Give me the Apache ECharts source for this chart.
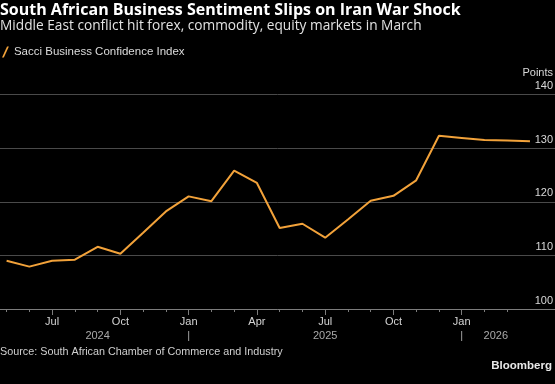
<!DOCTYPE html>
<html><head><meta charset="utf-8">
<script src="https://cdn.jsdelivr.net/npm/echarts@6/dist/echarts.min.js"></script>
<style>html,body{margin:0;padding:0;background:#000}#c{width:555px;height:384px}</style>
</head><body><div id="c"></div>
<script>
// Monthly positions (month-end readings plotted at the start of the next month)
const months = ['May','Jun','Jul','Aug','Sep','Oct','Nov','Dec','Jan','Feb','Mar','Apr',
                'May','Jun','Jul','Aug','Sep','Oct','Nov','Dec','Jan','Feb','Mar','Apr'];
const startYear = 2024;
const values = [109.0,107.9,109.0,109.2,111.6,110.3,114.2,118.2,121.0,120.1,125.8,123.5,
                115.1,115.9,113.3,116.7,120.2,121.1,124.0,132.3,131.9,131.5,131.4,131.3];
const quarterMonths = ['Jan','Apr','Jul','Oct'];
const yTicks = [100,110,120,130,140];
const seriesName = 'Sacci Business Confidence Index';

const FONT = 'Liberation Sans';
const TFONT = 'Open Sans';
const lastIdx = values.length - 1;
const minorTicks = months.map((m,i)=>i).filter(i=>i<lastIdx);
const majorTicks = minorTicks.filter(i=>quarterMonths.includes(months[i]));
// year boundaries
const janIdx = months.map((m,i)=>m==='Jan'?i:-1).filter(i=>i>=0);
const bounds = [0, ...janIdx, lastIdx];
const yearMap = new Map();
for (let k=0;k<bounds.length-1;k++){ yearMap.set((bounds[k]+bounds[k+1])/2, String(startYear+k)); }
janIdx.forEach(i=>yearMap.set(i,'|'));
const yearVals = [...yearMap.keys()];

const xMin = -0.29, xMax = 24.1;
const axisGray = '#7c7c7c';

const chart = echarts.init(document.getElementById('c'));
chart.setOption({
  backgroundColor:'#000',
  animation:false,
  title:[
    {text:'South African Business Sentiment Slips on Iran War Shock', left:0, top:2, padding:0,
     textStyle:{color:'#ffffff', fontSize:16, fontWeight:'bold', fontFamily:TFONT}},
    {text:'Middle East conflict hit forex, commodity, equity markets in March', left:0, top:19, padding:0,
     textStyle:{color:'#e2e2e2', fontSize:13.7, fontWeight:'normal', fontFamily:TFONT}},
    {text:'Points', right:2, top:67, padding:0,
     textStyle:{color:'#d8d8d8', fontSize:11, fontWeight:'normal', fontFamily:FONT}},
    {text:'Source: South African Chamber of Commerce and Industry', left:0, top:347, padding:0,
     textStyle:{color:'#cfcfcf', fontSize:10.8, fontWeight:'normal', fontFamily:FONT}},
    {text:'Bloomberg', right:3, top:360, padding:0,
     textStyle:{color:'#e8e8e8', fontSize:11.5, fontWeight:'bold', fontFamily:FONT}}
  ],
  legend:{left:2, top:46, padding:0, itemWidth:7, itemHeight:11,
    icon:'path://M0,12 L5.5,0 L7.5,0 L2,12 Z',
    textStyle:{color:'#dcdcdc', fontSize:11.5, fontFamily:FONT},
    data:[seriesName]},
  grid:{left:0, right:0, top:94.5, bottom:75, containLabel:false, outerBoundsMode:'none'},
  xAxis:[
    {type:'value', min:xMin, max:xMax,
     axisLine:{show:true, lineStyle:{color:axisGray, width:1}},
     axisTick:{show:true, customValues:minorTicks, length:3, lineStyle:{color:axisGray}},
     axisLabel:{show:false}, splitLine:{show:false}},
    {type:'value', min:xMin, max:xMax, position:'bottom',
     axisLine:{show:false},
     axisTick:{show:true, customValues:majorTicks, length:6, lineStyle:{color:axisGray}},
     axisLabel:{customValues:majorTicks, formatter:v=>months[Math.round(v)], color:'#d4d4d4', fontSize:11, fontFamily:FONT, margin:7},
     splitLine:{show:false}},
    {type:'value', min:xMin, max:xMax, position:'bottom',
     axisLine:{show:false}, axisTick:{show:false},
     axisLabel:{customValues:yearVals, formatter:v=>yearMap.get(v)||'', color:'#a9a9a9', fontSize:11, fontFamily:FONT, margin:21},
     splitLine:{show:false}}
  ],
  yAxis:{type:'value', position:'right', min:yTicks[0], max:yTicks[yTicks.length-1], interval:10,
    axisLine:{show:false}, axisTick:{show:false},
    splitLine:{show:true, lineStyle:{color:'#4a4a4a', width:1}},
    axisLabel:{inside:true, margin:2, verticalAlign:'bottom', padding:[0,0,3,0], color:'#d8d8d8', fontSize:11, fontFamily:FONT, showMinLabel:true, showMaxLabel:true}},
  series:[{name:seriesName, type:'line', xAxisIndex:0, symbol:'none',
    data:values.map((v,i)=>[i,v]),
    lineStyle:{color:'#f2a23a', width:2}, itemStyle:{color:'#f2a23a'}}]
});
</script></body></html>
